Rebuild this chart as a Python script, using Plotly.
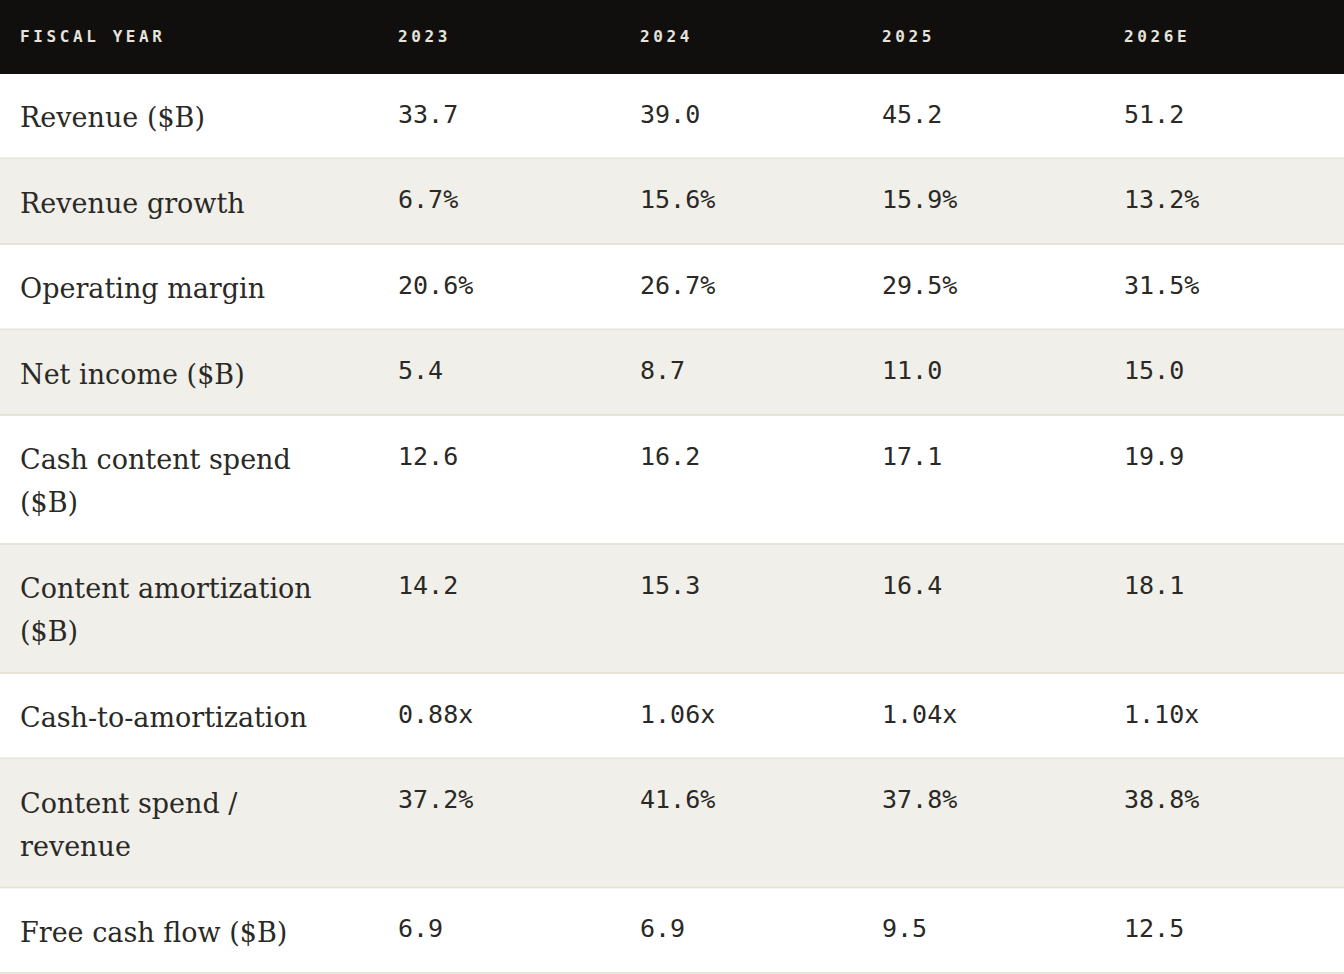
import plotly.graph_objects as go

# ---- data ----
header_labels = ["FISCAL YEAR", "2023", "2024", "2025", "2026E"]
metrics = [
    ["Revenue ($B)"],
    ["Revenue growth"],
    ["Operating margin"],
    ["Net income ($B)"],
    ["Cash content spend", "($B)"],
    ["Content amortization", "($B)"],
    ["Cash-to-amortization"],
    ["Content spend /", "revenue"],
    ["Free cash flow ($B)"],
]
fy2023 = ["33.7", "6.7%", "20.6%", "5.4", "12.6", "14.2", "0.88x", "37.2%", "6.9"]
fy2024 = ["39.0", "15.6%", "26.7%", "8.7", "16.2", "15.3", "1.06x", "41.6%", "6.9"]
fy2025 = ["45.2", "15.9%", "29.5%", "11.0", "17.1", "16.4", "1.04x", "37.8%", "9.5"]
fy2026e = ["51.2", "13.2%", "31.5%", "15.0", "19.9", "18.1", "1.10x", "38.8%", "12.5"]

# ---- layout parameters ----
W, H = 1344, 974
col_widths = [377, 242, 242, 242, 242]
pad_label = 18.5
pad_num = 19.5
header_h = 74
row_base = 42
line_h = 43.5

HEADER_BG = "#100f0d"
HEADER_FG = "#e6e3dc"
ROW_A = "#ffffff"
ROW_B = "#f1efea"
SEP = "#e7e4da"
TEXT = "#2a2925"

col_left = [sum(col_widths[:i]) for i in range(len(col_widths))]
values = [fy2023, fy2024, fy2025, fy2026e]

# row edges
edges = [header_h]
for m in metrics:
    edges.append(edges[-1] + row_base + line_h * len(m))

shapes = []
annotations = []

# header band
shapes.append(dict(type="rect", xref="x", yref="y", x0=0, x1=W, y0=0, y1=header_h,
                   fillcolor=HEADER_BG, line=dict(width=0), layer="below"))
for j, lab in enumerate(header_labels):
    annotations.append(dict(
        x=col_left[j] + (pad_label if j == 0 else pad_num), y=header_h / 2 - 0.5, xref="x", yref="y",
        text='<span style="letter-spacing:3.6px">' + lab + "</span>",
        showarrow=False, xanchor="left", yanchor="middle", borderpad=0,
        font=dict(family="DejaVu Sans Mono", size=16, color=HEADER_FG, weight="bold"),
    ))

for i, m in enumerate(metrics):
    top, bot = edges[i], edges[i + 1]
    shapes.append(dict(type="rect", xref="x", yref="y", x0=0, x1=W, y0=top, y1=bot,
                       fillcolor=ROW_A if i % 2 == 0 else ROW_B, line=dict(width=0), layer="below"))
    shapes.append(dict(type="line", xref="x", yref="y", x0=0, x1=W, y0=bot - 1, y1=bot - 1,
                       line=dict(color=SEP, width=2), layer="below"))
    for k, line_text in enumerate(m):
        annotations.append(dict(
            x=col_left[0] + pad_label, y=top + 43.5 + 43 * k, xref="x", yref="y",
            text=line_text, showarrow=False, xanchor="left", yanchor="middle", borderpad=0,
            font=dict(family="DejaVu Serif", size=27, color=TEXT),
        ))
    for j, col in enumerate(values):
        annotations.append(dict(
            x=col_left[j + 1] + pad_num, y=top + 40, xref="x", yref="y",
            text=col[i], showarrow=False, xanchor="left", yanchor="middle", borderpad=0,
            font=dict(family="DejaVu Sans Mono", size=25, color=TEXT),
        ))

fig = go.Figure()
fig.update_layout(
    width=W,
    height=H,
    margin=dict(l=0, r=0, t=0, b=0),
    paper_bgcolor="#ffffff",
    plot_bgcolor="#ffffff",
    xaxis=dict(range=[0, W], visible=False, fixedrange=True),
    yaxis=dict(range=[H, 0], visible=False, fixedrange=True),
    shapes=shapes,
    annotations=annotations,
    showlegend=False,
)
fig.write_html(
    "out.html",
    config={"displayModeBar": False},
    post_script="document.body.style.margin='0';document.body.style.overflow='hidden';",
)
